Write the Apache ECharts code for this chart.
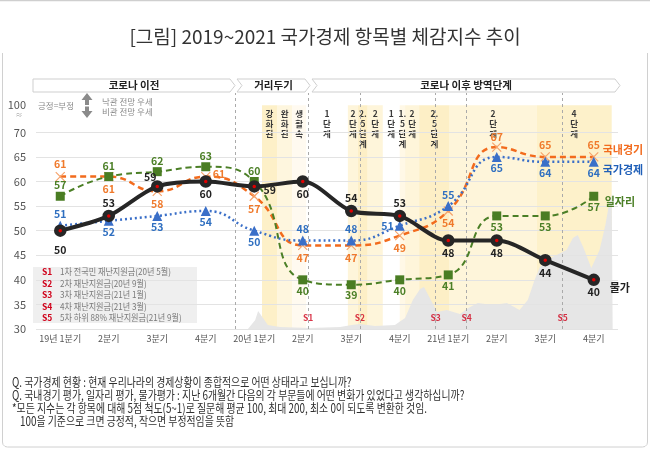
<!DOCTYPE html>
<html>
<head>
<meta charset="utf-8">
<script src="https://cdn.jsdelivr.net/npm/echarts@6/dist/echarts.min.js"></script>
<style>
  html, body { margin: 0; padding: 0; background: #fff; }
  #main { width: 650px; height: 450px; }
</style>
</head>
<body>
<div id="main"></div>
<script>
// ---- data ----
var quarters = ['19년 1분기', '2분기', '3분기', '4분기', '20년 1분기', '2분기', '3분기', '4분기', '21년 1분기', '2분기', '3분기', '4분기'];
var nationalEcon = [51, 52, 53, 54, 50, 48, 48, 51, 55, 65, 64, 64];   // 국가경제
var domesticEcon = [61, 61, 58, 61, 57, 47, 47, 49, 54, 67, 65, 65];   // 국내경기
var jobs         = [57, 61, 62, 63, 60, 40, 39, 40, 41, 53, 53, 57];   // 일자리
var prices       = [50, 53, 59, 60, 59, 60, 54, 53, 48, 48, 44, 40];   // 물가

var yTicks = [30, 35, 40, 45, 50, 55, 60, 65, 70];
var yTopLabel = 75.5;   // broken axis, shown as 100

// 방역 단계 (time in quarter units, 0 = 19년 1분기)
var stageNames = ['강화된', '완화된', '생활속', '1단계', '2단계', '2.5단계', '2단계', '1단계', '1.5단계', '2단계', '2.5단계', '2단계', '4단계'];
var stageStart = [4.16, 4.47, 4.78, 5.07, 5.93, 6.14, 6.34, 6.65, 7.00, 7.11, 7.40, 8.03, 9.82];
var stageEnd   = [4.47, 4.78, 5.07, 5.93, 6.14, 6.34, 6.65, 7.00, 7.11, 7.40, 8.03, 9.82, 11.37];

var periodBreak = 3.6;  // 코로나 이전 | 거리두기

// 재난지원금
var sNames = ['S1', 'S2', 'S3', 'S4', 'S5'];
var sTimes = [5.11, 6.18, 7.74, 8.38, 10.36];
var sNotes = ['1차 전국민 재난지원금(20년 5월)', '2차 재난지원금(20년 9월)', '3차 재난지원금(21년 1월)', '4차 재난지원금(21년 3월)', '5차 하위 88% 재난지원금(21년 9월)'];

// background: 확진자 추이 (relative scale 0-100)
var caseT = [3.87, 4.02, 4.08, 4.12, 4.18, 4.28, 4.53, 5.15, 5.77, 6.01, 6.18, 6.49, 6.90, 7.11, 7.27, 7.42, 7.50, 7.62, 7.77, 7.97, 8.24, 8.45, 8.61, 8.92, 9.21, 9.47, 9.64, 9.78, 9.89, 10.15, 10.44, 10.57, 10.67, 10.79, 10.95, 11.12, 11.24, 11.33, 11.37, 11.39];
var caseV = [0, 3.8, 7.6, 8.1, 4.7, 1.7, 0.8, 0.4, 0.8, 1.7, 2.1, 1.3, 1.7, 4.7, 12.3, 16.9, 17.8, 13.1, 7.2, 8.1, 6.4, 9.3, 11.0, 10.2, 11.0, 8.1, 12.3, 20.8, 26.3, 30.5, 33.5, 38.6, 39.8, 34.3, 25.8, 33.5, 44.1, 54.7, 56.8, 0];

var bottomNotes = [
  'Q. 국가경제 현황 : 현재 우리나라의 경제상황이 종합적으로 어떤 상태라고 보십니까?',
  'Q. 국내경기 평가, 일자리 평가, 물가평가 : 지난 6개월간 다음의 각 부문들에 어떤 변화가 있었다고 생각하십니까?',
  '*모든 지수는 각 항목에 대해 5점 척도(5~1)로 질문해 평균 100, 최대 200, 최소 0이 되도록 변환한 것임.',
  '100을 기준으로 크면 긍정적, 작으면 부정적임을 뜻함'
];

// ---- styles ----
var FONT = "'Noto Sans CJK KR', 'Noto Sans', sans-serif";
var stageColor = {
  '강화된': '#fdf0c8', '완화된': '#fef6de', '생활속': '#fffaf0', '1단계': 'rgba(0,0,0,0)',
  '1.5단계': '#fff8e6', '2단계': '#fef5da', '2.5단계': '#fdefc6', '4단계': '#fdf1ca'
};
var blueLab   = ['top', 'bottom', 'bottom', 'bottom', 'bottom', 'top', 'top', 'left', 'top', 'bottom', 'bottom', 'bottom'];
var orangeLab = ['top', 'bottom', 'bottom', 'right', 'bottom', 'bottom', 'bottom', 'bottom', 'bottom', 'top', 'top', 'top'];
var greenLab  = ['top', 'top', 'top', 'top', 'top', 'bottom', 'bottom', 'bottom', 'bottom', 'bottom', 'bottom', 'bottom'];
var blackLab  = ['bottom', 'top', 'top', 'bottom', 'right', 'bottom', 'top', 'top', 'bottom', 'bottom', 'bottom', 'bottom'];
var blackExtra = { 0: { offset: [0, 7] }, 2: { offset: [-7, 3] }, 4: { offset: [0, 4], distance: 3 } };
var orangeExtra = { 3: { offset: [0, -3] }, 9: { distance: 0 } };

function vert(s) { return s.match(/\d\.|./g).join('\n'); }

function pointData(values, pos, extra) {
  return values.map(function (v, i) {
    var lab = { position: pos[i] };
    if (extra && extra[i]) Object.assign(lab, extra[i]);
    return { value: v, label: lab };
  });
}

function lineSeries(name, values, pos, extra, o) {
  return {
    name: name, type: 'line', xAxisIndex: 0, yAxisIndex: 0, z: o.z,
    smooth: o.smooth, symbol: o.symbol, symbolSize: o.symbolSize,
    lineStyle: o.lineStyle, itemStyle: o.itemStyle,
    label: { show: true, fontSize: 10.5, fontWeight: 'bold', color: o.labelColor, distance: o.distance, fontFamily: FONT },
    endLabel: Object.assign({ show: true, formatter: '{a}', fontSize: 11, fontWeight: 'bold', color: o.endColor, fontFamily: FONT }, o.endLabel),
    emphasis: { disabled: true },
    data: pointData(values, pos, extra)
  };
}

var chart = echarts.init(document.getElementById('main'));

var gridLines = yTicks.map(function (v) {
  return { yAxis: v, lineStyle: { color: '#e3e3e3', type: 'solid', width: 1 } };
}).concat([periodBreak].concat(sTimes).map(function (t) {
  return { xAxis: t, lineStyle: { color: '#aaaaaa', type: [3, 3], width: 1 } };
}));

var bands = stageNames.map(function (n, i) {
  return [
    { name: n, xAxis: stageStart[i], yAxis: yTopLabel, itemStyle: { color: stageColor[n] } },
    { xAxis: stageEnd[i], yAxis: 30 }
  ];
});

// graphic decorations
function chevron(x0, x1, notch, label) {
  var pts = [[x0, 79], [x1 - 5, 79], [x1, 85.5], [x1 - 5, 92], [x0, 92]];
  if (notch) pts.push([x0 + 5, 85.5]);
  return [
    { type: 'polygon', z: 20, shape: { points: pts }, style: { fill: '#fff', stroke: '#cfcfcf', lineWidth: 1 } },
    { type: 'text', z: 21, x: (x0 + x1) / 2, y: 85.5,
      style: { text: label, fill: '#222', fontSize: 10.5, fontWeight: 'bold', fontFamily: FONT, textAlign: 'center', textVerticalAlign: 'middle' } }
  ];
}

var graphics = [
  { type: 'rect', z: 0, shape: { x: 0, y: 0, width: 650, height: 1.2 }, style: { fill: '#cfcfcf' } },
  { type: 'polyline', z: 0,
    shape: { points: [[2.5, 53], [2.5, 442], [3, 444.5], [5, 446.5], [7.5, 447], [642.5, 447], [645, 446.5], [647, 444.5], [647.5, 442], [647.5, 53]] },
    style: { fill: 'none', stroke: '#d0d0d0', lineWidth: 1 } },
  { type: 'text', z: 20, x: 325, y: 37,
    style: { text: '[그림] 2019~2021 국가경제 항목별 체감지수 추이', fill: '#333', fontSize: 19, fontFamily: FONT, textAlign: 'center', textVerticalAlign: 'middle' } },
  { type: 'text', z: 20, x: 19, y: 114, style: { text: '≈', fill: '#999', fontSize: 7, fontFamily: FONT, textAlign: 'center', textVerticalAlign: 'middle' } },
  { type: 'text', z: 20, x: 38, y: 106, style: { text: '긍정=부정', fill: '#8a8a8a', fontSize: 8.5, fontFamily: FONT, textVerticalAlign: 'middle' } },
  { type: 'polygon', z: 20, shape: { points: [[87, 93], [81.5, 100], [85, 100], [85, 105], [89, 105], [89, 100], [92.5, 100]] }, style: { fill: '#8a8a8a' } },
  { type: 'polygon', z: 20, shape: { points: [[87, 118], [81.5, 111], [85, 111], [85, 106.5], [89, 106.5], [89, 111], [92.5, 111]] }, style: { fill: '#8a8a8a' } },
  { type: 'text', z: 20, x: 102, y: 102, style: { text: '낙관 전망 우세', fill: '#8a8a8a', fontSize: 8.5, fontFamily: FONT, textVerticalAlign: 'middle' } },
  { type: 'text', z: 20, x: 102, y: 111.5, style: { text: '비관 전망 우세', fill: '#8a8a8a', fontSize: 8.5, fontFamily: FONT, textVerticalAlign: 'middle' } },
  { type: 'rect', z: 4, shape: { x: 33, y: 267, width: 164, height: 56 }, style: { fill: '#efefef' } }
].concat(chevron(33, 235, false, '코로나 이전'))
 .concat(chevron(237, 310, true, '거리두기'))
 .concat(chevron(312, 620, true, '코로나 이후 방역단계'));

sNames.forEach(function (s, i) {
  var y = 272 + i * 11.5;
  graphics.push({ type: 'text', z: 20, x: 42, y: y, style: { text: s, fill: '#d0021b', fontSize: 8.5, fontWeight: 'bold', fontFamily: FONT, textVerticalAlign: 'middle' } });
  graphics.push({ type: 'text', z: 20, x: 60, y: y, scaleX: 0.9, style: { text: sNotes[i], fill: '#7a7a7a', fontSize: 9, fontFamily: FONT, textVerticalAlign: 'middle' } });
});

bottomNotes.forEach(function (t, i) {
  graphics.push({ type: 'text', z: 20, x: i === 3 ? 20 : 12, y: 382 + i * 13, scaleX: 0.79,
    style: { text: t, fill: '#2e2e2e', fontSize: 12.5, fontFamily: FONT, textVerticalAlign: 'middle' } });
});

chart.setOption({
  animation: false,
  textStyle: { fontFamily: FONT },
  grid: { left: 36, right: 32, top: 93, bottom: 121 },
  xAxis: [{
    type: 'category', data: quarters, boundaryGap: true,
    axisLine: { show: false }, axisTick: { show: false }, splitLine: { show: false },
    axisLabel: { color: '#555', fontSize: 9, margin: 5, interval: 0 }
  }, {
    type: 'value', min: -0.5, max: 11.5, show: false
  }],
  yAxis: [{
    type: 'value', min: 30, max: 78,
    axisLine: { show: false }, axisTick: { show: false }, splitLine: { show: false },
    axisLabel: {
      customValues: yTicks.concat([yTopLabel]),
      formatter: function (v) { return v > 70 ? '100' : String(v); },
      color: '#555', fontSize: 11, margin: 10
    }
  }, {
    type: 'value', min: 0, max: 100, show: false
  }],
  graphic: graphics,
  series: [
    {
      name: 'stages', type: 'line', xAxisIndex: 1, yAxisIndex: 0, z: 1, data: [],
      markArea: {
        silent: true, data: bands,
        label: { show: true, position: 'insideTop', distance: 3, formatter: function (p) { return vert(p.name); },
          color: '#3a3a3a', fontSize: 8.5, fontWeight: 'bold', lineHeight: 10, fontFamily: FONT }
      }
    },
    {
      name: 'cases', type: 'line', xAxisIndex: 1, yAxisIndex: 1, z: 2, symbol: 'none', silent: true,
      lineStyle: { width: 0 }, areaStyle: { color: '#e6e6e6', opacity: 1 },
      data: caseT.map(function (t, i) { return [t, caseV[i]]; })
    },
    {
      name: 'grid', type: 'line', xAxisIndex: 1, yAxisIndex: 0, z: 3, data: [],
      markLine: { silent: true, symbol: ['none', 'none'], label: { show: false }, data: gridLines }
    },
    {
      name: 'support', type: 'scatter', xAxisIndex: 1, yAxisIndex: 0, z: 4, symbolSize: 1, silent: true,
      itemStyle: { color: 'rgba(0,0,0,0)' },
      label: { show: true, position: 'inside', formatter: '{b}', color: '#d0021b', fontSize: 8.5, fontWeight: 'bold' },
      data: sNames.map(function (s, i) { return { name: s, value: [sTimes[i], 32.2] }; })
    },
    lineSeries('국내경기', domesticEcon, orangeLab, orangeExtra, {
      z: 5, smooth: 0.5, symbol: 'path://M0,0L10,10M10,0L0,10', symbolSize: 9, distance: 2,
      lineStyle: { color: '#f26b1d', width: 2.5, type: [6, 4] },
      itemStyle: { color: '#f6a36c', borderColor: '#f6a36c', borderWidth: 1.2 },
      labelColor: '#f07a2c', endColor: '#f26b1d', endLabel: { distance: 9, offset: [0, -7] }
    }),
    lineSeries('일자리', jobs, greenLab, null, {
      z: 6, smooth: 0.5, symbol: 'rect', symbolSize: 9, distance: 1,
      lineStyle: { color: '#4b7f26', width: 2, type: [6, 4] },
      itemStyle: { color: '#4a7d23' },
      labelColor: '#4b7f26', endColor: '#4b7f26', endLabel: { distance: 11, offset: [0, 6] }
    }),
    lineSeries('국가경제', nationalEcon, blueLab, null, {
      z: 7, smooth: 0.5, symbol: 'triangle', symbolSize: 10, distance: 1,
      lineStyle: { color: '#3a6fc8', width: 2.5, type: [2, 3] },
      itemStyle: { color: '#3a6fc8' },
      labelColor: '#2f6fc0', endColor: '#1f5fb8', endLabel: { distance: 9, offset: [0, 8] }
    }),
    lineSeries('물가', prices, blackLab, blackExtra, {
      z: 8, smooth: 0.3, symbol: 'circle', symbolSize: 8, distance: 1,
      lineStyle: { color: '#262626', width: 4 },
      itemStyle: { color: '#e00000', borderColor: '#262626', borderWidth: 4.5 },
      labelColor: '#222', endColor: '#222', endLabel: { distance: 16, offset: [0, 8] }
    })
  ]
});
</script>
</body>
</html>
